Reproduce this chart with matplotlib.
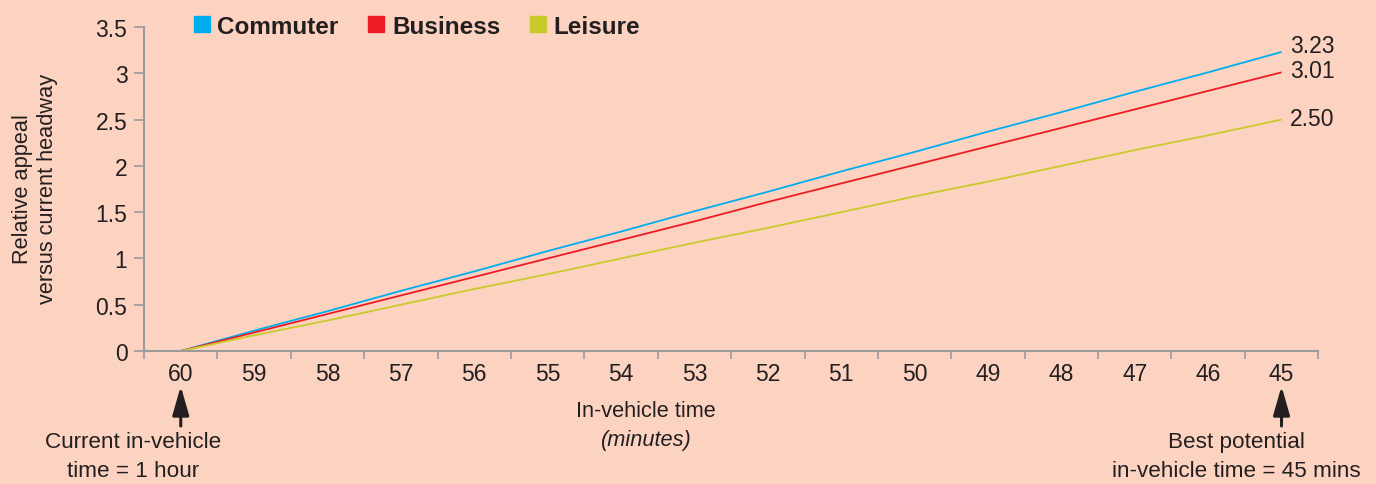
import matplotlib.pyplot as plt
from matplotlib.lines import Line2D
import numpy as np

plt.rcParams['font.family'] = ['Liberation Sans', 'DejaVu Sans']

# Data
minutes = ["60", "59", "58", "57", "56", "55", "54", "53", "52", "51", "50", "49", "48", "47", "46", "45"]
commuter = [0, 0.22, 0.43, 0.65, 0.86, 1.08, 1.29, 1.51, 1.72, 1.94, 2.15, 2.37, 2.58, 2.80, 3.01, 3.23]
business = [0, 0.20, 0.40, 0.60, 0.80, 1.00, 1.20, 1.40, 1.61, 1.81, 2.01, 2.21, 2.41, 2.61, 2.81, 3.01]
leisure = [0, 0.17, 0.33, 0.50, 0.67, 0.83, 1.00, 1.17, 1.33, 1.50, 1.67, 1.83, 2.00, 2.17, 2.33, 2.50]
series_names = ["Commuter", "Business", "Leisure"]
y_ticks = [0, 0.5, 1, 1.5, 2, 2.5, 3, 3.5]
y_tick_labels = ["0", "0.5", "1", "1.5", "2", "2.5", "3", "3.5"]

bg = "#fcd3c1"
colors = ["#00aeef", "#ed1c24", "#c9c92c"]
text_col = "#231f20"
axis_col = "#9a9a9a"

fig = plt.figure(figsize=(13.76, 4.85), dpi=100, facecolor=bg)
ax = fig.add_axes([0.1047, 0.2742, 0.958 - 0.1047, 0.9423 - 0.2742])
ax.set_facecolor(bg)

x = np.arange(len(minutes))
for vals, col, name in zip([commuter, business, leisure], colors, series_names):
    ax.plot(x, vals, color=col, lw=1.3, solid_capstyle="butt")

# end labels
offsets = [5, 1, 1]
for vals, off in zip([commuter, business, leisure], offsets):
    ax.annotate(f"{vals[-1]:.2f}", xy=(x[-1], vals[-1]), xytext=(6, off),
                textcoords="offset points", ha="left", va="center",
                fontsize=16.5, color=text_col)

# axes
ax.set_xlim(-0.5, len(minutes) - 0.5)
ax.set_ylim(0, 3.5)
ax.set_xticks(x)
ax.set_xticklabels(minutes)
ax.set_xticks(np.arange(-0.5, len(minutes), 1), minor=True)
ax.tick_params(axis="x", which="major", length=0, pad=8, labelsize=16.5, labelcolor=text_col)
ax.tick_params(axis="x", which="minor", length=6, width=1.2, color=axis_col, direction="out")
ax.set_yticks(y_ticks)
ax.set_yticklabels(y_tick_labels)
ax.tick_params(axis="y", length=7, width=1.2, color=axis_col, pad=5, labelsize=16.5, labelcolor=text_col)
for s in ["top", "right"]:
    ax.spines[s].set_visible(False)
for s in ["left", "bottom"]:
    ax.spines[s].set_color(axis_col)
    ax.spines[s].set_linewidth(1.5)

# legend
handles = [Line2D([], [], marker="s", ls="", markersize=11.5, color=c) for c in colors]
leg = ax.legend(handles, series_names, ncol=3, loc="upper left", bbox_to_anchor=(0.02, 1.105),
                frameon=False, handletextpad=0.15, columnspacing=1.05, handlelength=1.0,
                prop={"size": 17.5, "weight": "bold"})
for t in leg.get_texts():
    t.set_color(text_col)

# axis labels
fig.text(0.0255, 1 - 189 / 485, "Relative appeal\nversus current headway", rotation=90, ha="center",
         va="center", fontsize=15.7, color=text_col, linespacing=1.3)
fig.text(0.4695, 0.151, "In-vehicle time", ha="center", va="center", fontsize=15.7, color=text_col)
fig.text(0.4695, 0.092, "(minutes)", ha="center", va="center", fontsize=15.7, color=text_col, style="italic")

# arrows and notes
for xi in [x[0], x[-1]]:
    ax.annotate("", xy=(xi, -0.38), xytext=(xi, -0.81), xycoords="data", annotation_clip=False,
                arrowprops=dict(arrowstyle="-|>,head_length=0.8,head_width=0.23", color=text_col,
                                lw=2.2, mutation_scale=22, shrinkA=0, shrinkB=0))
fig.text(133 / 1376, 1 - 457 / 485, "Current in-vehicle\ntime = 1 hour", ha="center", va="center",
         fontsize=16.2, color=text_col, linespacing=1.45)
fig.text(1236 / 1376, 1 - 457 / 485, "Best potential\nin-vehicle time = 45 mins", ha="center", va="center",
         fontsize=16.2, color=text_col, linespacing=1.45)

fig.savefig("out.png", dpi=100, facecolor=bg)
